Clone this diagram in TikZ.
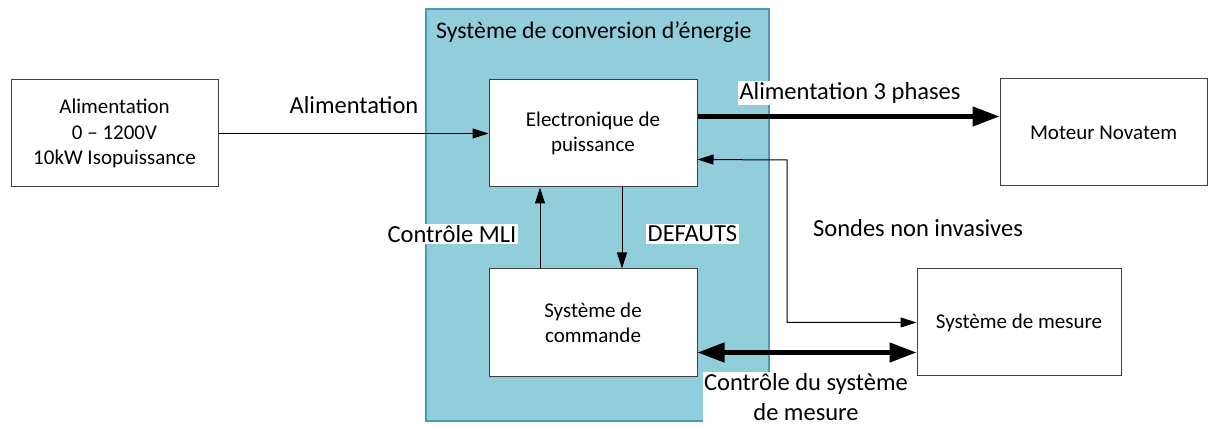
\documentclass[tikz,border=0pt]{standalone}
\usepackage{fontspec}
\setmainfont{Carlito}
\usetikzlibrary{arrows.meta,calc}
\definecolor{bluefill}{HTML}{92CDDC}
\definecolor{blueedge}{HTML}{4A9AB0}
\definecolor{boxgray}{HTML}{404040}
\newcommand{\boxfont}{\fontsize{21}{25.5}\selectfont}
\newcommand{\lblfont}{\fontsize{24.5}{30}\selectfont}
\newcommand{\titlefont}{\fontsize{23.8}{28}\selectfont}
\tikzset{
  thinhead/.tip={Triangle[length=16pt,width=10pt]},
  thickhead/.tip={Triangle[length=27pt,width=19pt]},
  blockbox/.style={draw=boxgray, line width=1pt, fill=white, align=center,
    font=\boxfont, inner sep=0pt, minimum width=#1},
  blockbox/.default=208pt,
  lbl/.style={fill=white, inner sep=1.5pt, font=\lblfont, align=center},
  thinarrow/.style={draw=black, line width=1pt, -{thinhead}},
  thickline/.style={draw=black, line width=4.5pt},
}
\begin{document}
\begin{tikzpicture}[x=1pt,y=-1pt]
\useasboundingbox (0,0) rectangle (1213,427);
% container
\node[draw=blueedge, fill=bluefill, line width=1.2pt, minimum width=343pt,
      minimum height=412pt, inner sep=0pt] (conv) at (597.5,215) {};
\node[anchor=west, font=\titlefont, inner sep=0pt] (title) at (436,32) {Système de conversion d’énergie};
% blocks
\node[blockbox=207pt, minimum height=107pt] (alim) at (114.5,133.5) {Alimentation\\0 – 1200V\\10kW Isopuissance};
\node[blockbox=208pt, minimum height=107pt] (elec) at (593,133.5) {Electronique de\\puissance};
\node[blockbox=208pt, minimum height=108pt] (cmd) at (593,323) {Système de\\commande};
\node[blockbox=207pt, minimum height=107pt] (mot) at (1103.5,132.5) {Moteur Novatem};
\node[blockbox=204pt, minimum height=107pt] (mes) at (1019,322.5) {Système de mesure};
% helper coordinates
\coordinate (mlix) at (540,0);
\coordinate (defx) at (622,0);
\path (elec.north east) ++(0,37) coordinate (p3ph);
\path (elec.north east) ++(0,80) coordinate (psonde);
\coordinate (sbend) at (787,160);
\path (cmd.north east) ++(0,84) coordinate (pctl);
% connectors
\draw[thinarrow] (alim.east) -- (elec.west);
\draw[thickline, -{thickhead}] (p3ph) -- (p3ph -| mot.west);
\draw[thinarrow, {thinhead}-{thinhead}] (psonde) -- (sbend) |- (mes.west);
\draw[thinarrow] (cmd.north -| mlix) -- (elec.south -| mlix);
\draw[thinarrow] (elec.south -| defx) -- (cmd.north -| defx);
\draw[thickline, {thickhead}-{thickhead}] (pctl) -- (pctl -| mes.west);
% labels
\node[lbl] (lalim) at (354,105) {Alimentation};
\node[lbl] (l3ph) at (850,93) {Alimentation 3 phases};
\node[lbl] (lsonde) at (918,228) {Sondes non invasives};
\node[lbl, anchor=east] (lmli) at (518,234) {Contrôle MLI};
\node[lbl, anchor=west] (ldef) at (646,234) {DEFAUTS};
\node[lbl, inner sep=1pt] (lctl) at (806,397) {Contrôle du système\\de mesure};
\end{tikzpicture}
\end{document}
